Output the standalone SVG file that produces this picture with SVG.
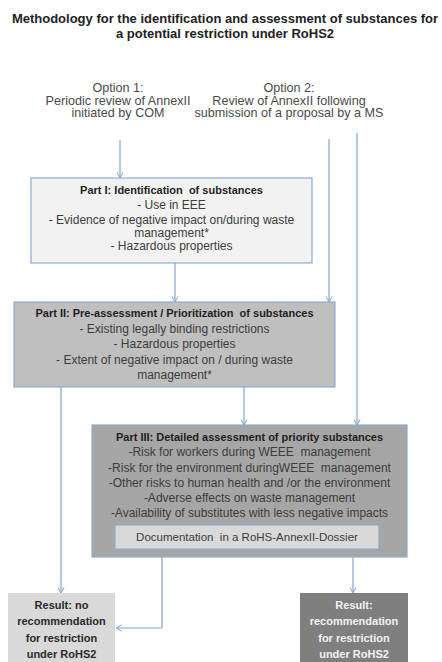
<svg xmlns="http://www.w3.org/2000/svg" width="442" height="662" viewBox="0 0 442 662">
<defs>
<marker id="arr" markerWidth="8" markerHeight="8" refX="6" refY="3.5" orient="auto" markerUnits="userSpaceOnUse">
<path d="M0.5,0.5 L6,3.5 L0.5,6.5" fill="none" stroke="#86a3cc" stroke-width="1"/>
</marker>
<style>
text{font-family:"Liberation Sans",Arial,sans-serif;text-anchor:middle}
.title{font-size:13px;font-weight:bold;fill:#222}
.opt{font-size:12.6px;fill:#4a4a4a}
.hd{font-size:11px;font-weight:bold;fill:#1e1e1e}
.bd{font-size:12px;fill:#3c3c3c}
.res{font-size:11px;font-weight:bold;fill:#2a2a2a}
.resw{font-size:11px;font-weight:bold;fill:#f2f2f2}
.conn{fill:none;stroke:#86a3cc;stroke-width:1.2;marker-end:url(#arr)}
.box{stroke:#8fabd2;stroke-width:1.2}
</style>
</defs>
<rect x="0" y="0" width="442" height="662" fill="#ffffff"/>

<g id="title">
<text class="title" x="225" y="22.5">Methodology for the identification and assessment of substances for</text>
<text class="title" x="225" y="37.5">a potential restriction under RoHS2</text>
</g>

<g id="option1">
<text class="opt" x="118" y="92">Option 1:</text>
<text class="opt" x="118" y="104.5">Periodic review of AnnexII</text>
<text class="opt" x="118" y="117">initiated by COM</text>
</g>

<g id="option2">
<text class="opt" x="289" y="92">Option 2:</text>
<text class="opt" x="289" y="104.5">Review of AnnexII following</text>
<text class="opt" x="289" y="117">submission of a proposal by a MS</text>
</g>

<g id="connectors">
<path class="conn" d="M120,140 V178"/>
<path class="conn" d="M329,139 V302"/>
<path class="conn" d="M357,133 V425"/>
<path class="conn" d="M175,263 V302"/>
<path class="conn" d="M61,387 V593"/>
<path class="conn" d="M244,387 V425"/>
<path class="conn" d="M162,557 V628 H116"/>
<path class="conn" d="M353,557 V593"/>
</g>

<g id="part1">
<rect class="box" x="31" y="178" width="281" height="85" fill="#f2f2f2"/>
<text class="hd" x="171.5" y="194" xml:space="preserve">Part I: Identification  of substances</text>
<text class="bd" x="171.5" y="209">- Use in EEE</text>
<text class="bd" x="171.5" y="224">- Evidence of negative impact on/during waste</text>
<text class="bd" x="171.5" y="237">management*</text>
<text class="bd" x="171.5" y="250">- Hazardous properties</text>
</g>

<g id="part2">
<rect class="box" x="14" y="302" width="321" height="85" fill="#bfbfbf"/>
<text class="hd" x="174.5" y="317" xml:space="preserve">Part II: Pre-assessment / Prioritization  of substances</text>
<text class="bd" x="174.5" y="333">- Existing legally binding restrictions</text>
<text class="bd" x="174.5" y="348">- Hazardous properties</text>
<text class="bd" x="174.5" y="364">- Extent of negative impact on / during waste</text>
<text class="bd" x="174.5" y="379">management*</text>
</g>

<g id="part3">
<rect class="box" x="92" y="425" width="315" height="132" fill="#a6a6a6"/>
<text class="hd" x="249.5" y="441">Part III: Detailed assessment of priority substances</text>
<text class="bd" x="249.5" y="456" xml:space="preserve">-Risk for workers during WEEE  management</text>
<text class="bd" x="249.5" y="472" xml:space="preserve">-Risk for the environment duringWEEE  management</text>
<text class="bd" x="249.5" y="487">-Other risks to human health and /or the environment</text>
<text class="bd" x="249.5" y="502">-Adverse effects on waste management</text>
<text class="bd" x="249.5" y="517">-Availability of substitutes with less negative impacts</text>
</g>

<g id="dossier">
<rect class="box" x="115" y="525" width="264" height="24" fill="#d9d9d9"/>
<text class="bd" x="247" y="541" style="font-size:11.5px" xml:space="preserve">Documentation  in a RoHS-AnnexII-Dossier</text>
</g>

<g id="result-no">
<rect x="8" y="593" width="107" height="75" fill="#d9d9d9"/>
<text class="res" x="61.5" y="609">Result: no</text>
<text class="res" x="61.5" y="625">recommendation</text>
<text class="res" x="61.5" y="642">for restriction</text>
<text class="res" x="61.5" y="658">under RoHS2</text>
</g>

<g id="result-yes">
<rect x="300" y="593" width="108" height="75" fill="#7f7f7f"/>
<text class="resw" x="354" y="609">Result:</text>
<text class="resw" x="354" y="625">recommendation</text>
<text class="resw" x="354" y="642">for restriction</text>
<text class="resw" x="354" y="658">under RoHS2</text>
</g>
</svg>
